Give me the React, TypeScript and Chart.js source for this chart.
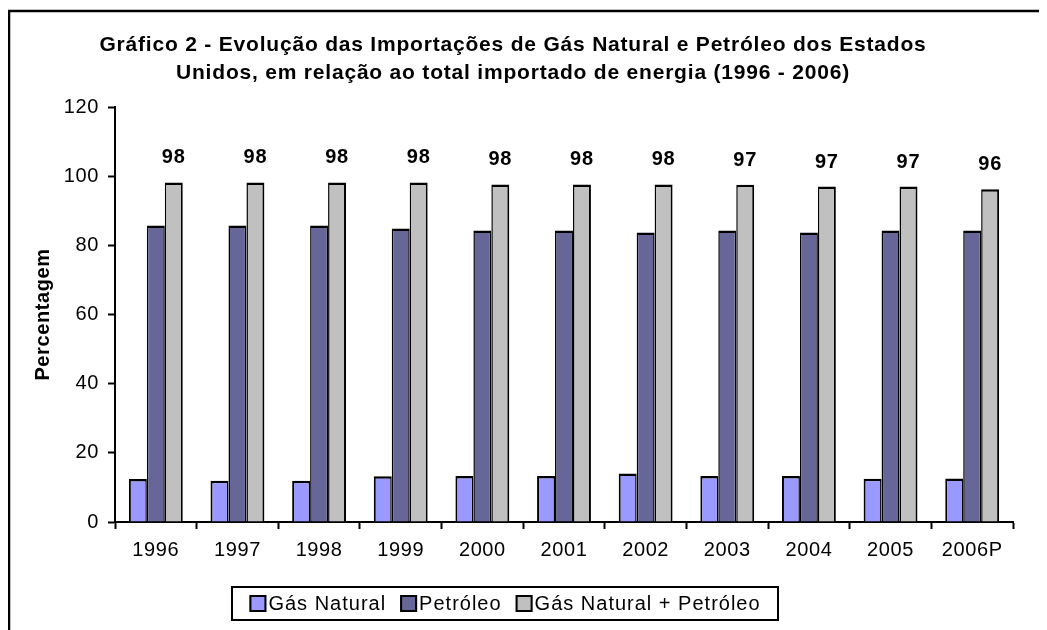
import React, { useEffect, useRef } from "react";
import { Chart, registerables } from "chart.js";

Chart.register(...registerables);

const FONT = '"Liberation Sans", Arial, Helvetica, sans-serif';

const titleLines = [
  "Gráfico 2 - Evolução das Importações de Gás Natural e Petróleo dos Estados",
  "Unidos, em relação ao total importado de energia (1996 - 2006)",
];
const categories = ["1996", "1997", "1998", "1999", "2000", "2001", "2002", "2003", "2004", "2005", "2006P"];
const gasNatural = [12.4, 11.9, 11.9, 13.2, 13.3, 13.3, 14.0, 13.3, 13.3, 12.5, 12.6];
const petroleo = [85.7, 85.7, 85.7, 84.9, 84.3, 84.3, 83.7, 84.3, 83.7, 84.3, 84.3];
const gasMaisPetroleo = [98.2, 98.2, 98.2, 98.2, 97.6, 97.6, 97.6, 97.5, 97.0, 97.0, 96.2];
const totalLabels = ["98", "98", "98", "98", "98", "98", "98", "97", "97", "97", "96"];
const seriesNames = ["Gás Natural", "Petróleo", "Gás Natural + Petróleo"];
const seriesColors = ["#9999FF", "#666699", "#C0C0C0"];
const yMin = 0;
const yMax = 120;
const yStep = 20;
const yTitle = "Percentagem";

const decorPlugin = {
  id: "decor",
  beforeDraw(chart: any) {
    const ctx = chart.ctx;
    ctx.save();
    ctx.fillStyle = "#fff";
    ctx.fillRect(0, 0, chart.width, chart.height);
    ctx.restore();
    ctx.letterSpacing = "0.6px";
  },
  afterDraw(chart: any) {
    const ctx = chart.ctx;
    ctx.save();
    // outer frame (top & left visible)
    ctx.strokeStyle = "#000";
    ctx.lineWidth = 2.5;
    ctx.beginPath();
    ctx.moveTo(1, chart.height);
    ctx.lineTo(1, 3);
    ctx.lineTo(chart.width, 3);
    ctx.stroke();

    // title
    ctx.fillStyle = "#000";
    ctx.font = `bold 21px ${FONT}`;
    ctx.letterSpacing = "0.8px";
    ctx.textAlign = "center";
    ctx.textBaseline = "alphabetic";
    ctx.fillText(titleLines[0], 505, 43);
    ctx.fillText(titleLines[1], 505, 71);

    // data labels on total series
    const meta = chart.getDatasetMeta(2);
    ctx.font = `bold 20px ${FONT}`;
    ctx.letterSpacing = "0.8px";
    meta.data.forEach((bar: any, i: number) => {
      ctx.fillText(totalLabels[i], bar.x, bar.y - 19);
    });

    // legend
    ctx.font = `20px ${FONT}`;
    ctx.letterSpacing = "1px";
    ctx.textAlign = "left";
    const sq = 17;
    const gapBoxText = 2;
    const gapItems = 14;
    const widths = seriesNames.map((n) => ctx.measureText(n).width);
    const total =
      widths.reduce((a, b) => a + b, 0) +
      seriesNames.length * (sq + gapBoxText) +
      gapItems * (seriesNames.length - 1);
    const boxLeft = 224;
    const boxRight = 770;
    const boxTop = 579;
    const boxH = 33;
    ctx.lineWidth = 2;
    ctx.strokeStyle = "#000";
    ctx.strokeRect(boxLeft, boxTop, boxRight - boxLeft, boxH);
    let x = (boxLeft + boxRight) / 2 - total / 2;
    const midY = boxTop + boxH / 2;
    seriesNames.forEach((n, i) => {
      ctx.fillStyle = seriesColors[i];
      ctx.fillRect(x, midY - sq / 2, sq, sq);
      ctx.lineWidth = 2;
      ctx.strokeStyle = "#000";
      ctx.strokeRect(x + 1, midY - sq / 2 + 1, sq - 2, sq - 2);
      ctx.fillStyle = "#000";
      ctx.textBaseline = "middle";
      ctx.fillText(n, x + sq + gapBoxText, midY + 1);
      x += sq + gapBoxText + widths[i] + gapItems;
    });
    ctx.restore();
  },
};

export default function App() {
  const ref = useRef<HTMLCanvasElement | null>(null);
  useEffect(() => {
    if (!ref.current) return;
    const mk = (idx: number, data: number[], bw: any) => ({
      label: seriesNames[idx],
      data,
      backgroundColor: seriesColors[idx],
      borderColor: "#000",
      borderWidth: bw,
      borderSkipped: false as any,
    });
    const chart = new Chart(ref.current, {
      type: "bar",
      data: {
        labels: categories,
        datasets: [
          mk(0, gasNatural, { left: 2, top: 2.5, right: 1.5, bottom: 0 }),
          mk(1, petroleo, { left: 1.5, top: 2.5, right: 1.5, bottom: 0 }),
          mk(2, gasMaisPetroleo, { left: 1.5, top: 2.5, right: 2, bottom: 0 }),
        ],
      },
      options: {
        animation: false,
        responsive: false,
        maintainAspectRatio: false,
        layout: { padding: { top: 99, right: 34, bottom: 68, left: 0 } },
        datasets: { bar: { categoryPercentage: 0.66, barPercentage: 1 } },
        plugins: {
          legend: { display: false },
          title: { display: false },
          tooltip: { enabled: false },
        },
        scales: {
          x: {
            grid: {
              display: true,
              drawOnChartArea: false,
              drawTicks: true,
              tickLength: 7,
              tickColor: "#000",
              tickWidth: 2,
              offset: true,
            },
            border: { display: true, color: "#000", width: 2 },
            ticks: {
              color: "#000",
              font: { size: 20, family: FONT },
              padding: 9,
              maxRotation: 0,
              autoSkip: false,
            },
            afterFit(s: any) {
              s.height = 40;
            },
          },
          y: {
            min: yMin,
            max: yMax,
            ticks: {
              stepSize: yStep,
              color: "#000",
              font: { size: 20, family: FONT },
              padding: 9,
            },
            grid: {
              drawOnChartArea: false,
              drawTicks: true,
              tickLength: 7,
              tickColor: "#000",
              tickWidth: 2,
            },
            border: { display: true, color: "#000", width: 2 },
            title: {
              display: true,
              text: yTitle,
              color: "#000",
              font: { size: 20, weight: "bold", family: FONT },
              padding: { top: 23, bottom: 0 },
            },
            afterFit(s: any) {
              s.width = 107;
            },
          },
        },
      } as any,
      plugins: [decorPlugin],
    });
    return () => chart.destroy();
  }, []);
  return (
    <div style={{ width: 1039, height: 622 }}>
      <canvas ref={ref} width={1039} height={622} style={{ display: "block" }} />
    </div>
  );
}
